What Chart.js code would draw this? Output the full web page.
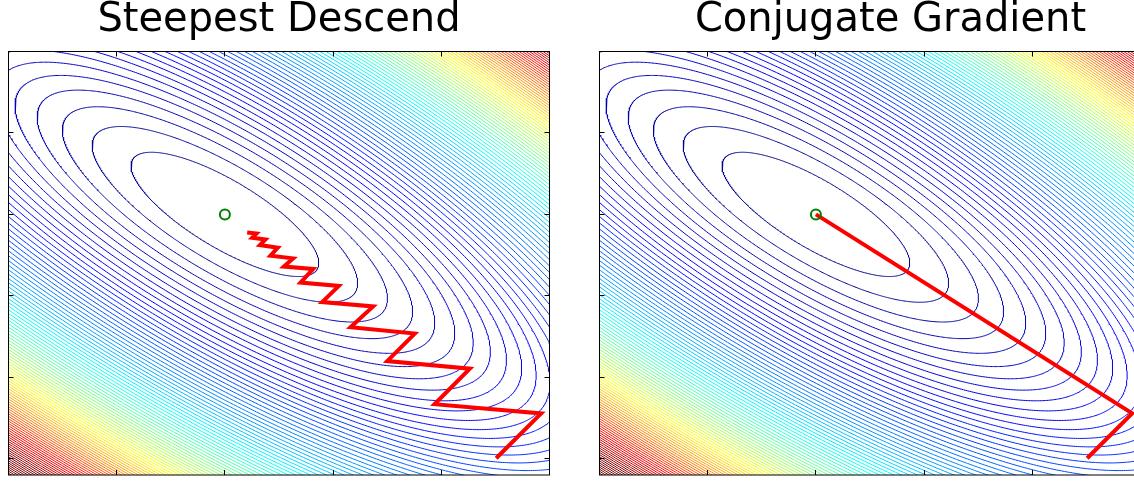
<!DOCTYPE html>
<html>
<head>
<meta charset="utf-8">
<script src="https://cdn.jsdelivr.net/npm/chart.js@4.4.1/dist/chart.umd.min.js"></script>
<style>
  html, body { margin: 0; padding: 0; background: #ffffff; overflow: hidden; }
  #wrap { position: relative; width: 1134px; height: 482px; overflow: hidden; background: #ffffff; }
  .panel { position: absolute; top: 0; height: 482px; }
  #left { left: 0; width: 575px; }
  #right { left: 575px; width: 620px; }
  canvas { display: block; }
</style>
</head>
<body>
<div id="wrap">
  <div class="panel" id="left"><canvas id="sd" width="575" height="482"></canvas></div>
  <div class="panel" id="right"><canvas id="cg" width="620" height="482"></canvas></div>
</div>
<script>
// Quadratic bowl f(x, y) = [x y] Q [x y]^T with its minimum at the origin
const quadMatrix = [[3.42, 3.04], [3.04, 4.42]];
// contour levels are f = 1, 2, ..., contourCount
const contourCount = 100;
// f value mapped to the top of the colormap
const colorMax = 89;

const minimumPoint = [{ x: 0, y: 0 }];

const xTicks = [-1, 0, 1, 2, 3];
const yTicks = [-3, -2, -1, 0, 1];

// Steepest descent iterates
const steepestX = [2.507, 2.923, 1.937, 2.264, 1.500, 1.755, 1.161, 1.370, 0.899, 1.053, 0.699,
                   0.816, 0.545, 0.631, 0.421, 0.489, 0.323, 0.375, 0.252, 0.292, 0.206];
const steepestY = [-2.994, -2.444, -2.331, -1.895, -1.801, -1.464, -1.386, -1.130, -1.077, -0.878, -0.837,
                   -0.670, -0.641, -0.540, -0.507, -0.409, -0.377, -0.308, -0.287, -0.234, -0.222];

// Conjugate gradient iterates
const conjugateX = [2.507, 2.923, 0];
const conjugateY = [-2.994, -2.444, 0];

// MATLAB-style jet colormap
function jet(t) {
  const clamp = v => Math.max(0, Math.min(1, v));
  t = clamp(t);
  const r = clamp(1.5 - Math.abs(4 * t - 3));
  const g = clamp(1.5 - Math.abs(4 * t - 2));
  const b = clamp(1.5 - Math.abs(4 * t - 1));
  return `rgb(${Math.round(r * 255)},${Math.round(g * 255)},${Math.round(b * 255)})`;
}

// Points of the level set f = level (an ellipse)
function ellipsePoints(level) {
  const a = quadMatrix[0][0], b = quadMatrix[0][1], c = quadMatrix[1][1];
  const theta = 0.5 * Math.atan2(2 * b, a - c);
  const cs = Math.cos(theta), sn = Math.sin(theta);
  const l1 = a * cs * cs + 2 * b * sn * cs + c * sn * sn;
  const l2 = a * sn * sn - 2 * b * sn * cs + c * cs * cs;
  const r1 = Math.sqrt(level / l1), r2 = Math.sqrt(level / l2);
  const n = 720;
  const pts = [];
  for (let i = 0; i <= n; i++) {
    const t = 2 * Math.PI * i / n;
    const p = r1 * Math.cos(t), q = r2 * Math.sin(t);
    pts.push({ x: p * cs - q * sn, y: p * sn + q * cs });
  }
  return pts;
}

function contourDatasets() {
  const sets = [];
  for (let k = 1; k <= contourCount; k++) {
    sets.push({
      data: ellipsePoints(k),
      showLine: true,
      borderColor: jet(k / colorMax),
      borderWidth: 1,
      pointRadius: 0,
      tension: 0,
      fill: false,
      clip: 0,
      order: 2
    });
  }
  return sets;
}

function toPoints(xs, ys) {
  return xs.map((x, i) => ({ x, y: ys[i] }));
}

// Box frame with inward tick marks on all four sides
const framePlugin = {
  id: 'frame',
  afterDatasetsDraw(chart) {
    const { ctx, chartArea: a } = chart;
    const xs = chart.scales.x, ys = chart.scales.y;
    const len = 5;
    ctx.save();
    ctx.strokeStyle = '#000000';
    ctx.lineWidth = 1;
    ctx.strokeRect(a.left, a.top, a.right - a.left, a.bottom - a.top);
    ctx.beginPath();
    xTicks.forEach(v => {
      const p = Math.floor(xs.getPixelForValue(v)) + 0.5;
      if (p <= a.left + 1 || p >= a.right - 1) return;
      ctx.moveTo(p, a.bottom); ctx.lineTo(p, a.bottom - len);
      ctx.moveTo(p, a.top); ctx.lineTo(p, a.top + len);
    });
    yTicks.forEach(v => {
      const p = Math.floor(ys.getPixelForValue(v)) + 0.5;
      if (p <= a.top + 1 || p >= a.bottom - 1) return;
      ctx.moveTo(a.left, p); ctx.lineTo(a.left + len, p);
      ctx.moveTo(a.right, p); ctx.lineTo(a.right - len, p);
    });
    ctx.stroke();
    ctx.restore();
  }
};

function makeChart(id, title, pathX, pathY, xMax, padding) {
  return new Chart(document.getElementById(id), {
    type: 'scatter',
    data: {
      datasets: [
        {
          data: minimumPoint,
          showLine: false,
          pointRadius: 5,
          pointBorderWidth: 2,
          pointBorderColor: 'rgb(0,128,0)',
          pointBackgroundColor: 'rgba(0,0,0,0)',
          clip: 0,
          order: 0
        },
        {
          data: toPoints(pathX, pathY),
          showLine: true,
          borderColor: 'rgb(255,0,0)',
          borderWidth: 4,
          borderJoinStyle: 'miter',
          pointRadius: 0,
          tension: 0,
          fill: false,
          clip: 0,
          order: 1
        },
        ...contourDatasets()
      ]
    },
    options: {
      responsive: false,
      maintainAspectRatio: false,
      animation: false,
      events: [],
      layout: { padding },
      scales: {
        x: { type: 'linear', min: -2, max: xMax, display: false },
        y: { type: 'linear', min: -3.2, max: 2, display: false }
      },
      plugins: {
        legend: { display: false },
        tooltip: { enabled: false },
        title: {
          display: true,
          text: title,
          color: '#000000',
          font: { family: 'DejaVu Sans', size: 40, weight: 'normal', lineHeight: 1 },
          padding: { top: 0, bottom: 10.5 }
        }
      }
    },
    plugins: [framePlugin]
  });
}

makeChart('sd', 'Steepest Descend', steepestX, steepestY, 3,
  { left: 8.5, right: 25.5, top: 1, bottom: 4.5 });
makeChart('cg', 'Conjugate Gradient', conjugateX, conjugateY, -2 + 582 / 108.2,
  { left: 24.5, right: 13.5, top: 1, bottom: 4.5 });
</script>
</body>
</html>
